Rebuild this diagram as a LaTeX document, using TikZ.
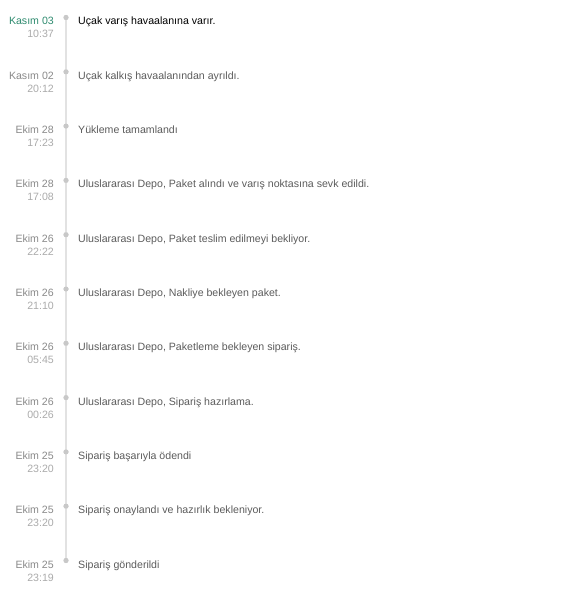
\documentclass[tikz,border=0pt]{standalone}
\usepackage{fontspec}
\setmainfont{Liberation Sans}
\usepackage{xcolor}
\definecolor{kargogreen}{HTML}{2E8B6F}
\definecolor{dategray}{HTML}{8A8A8A}
\definecolor{timegray}{HTML}{ABABAB}
\definecolor{textgray}{HTML}{5C5C5C}
\definecolor{linegray}{HTML}{E2E2E2}
\definecolor{dotgray}{HTML}{C8C8C8}

\begin{document}
\begin{tikzpicture}[x=1pt,y=-1pt,
    every node/.style={font=\fontsize{10.6}{13}\selectfont,inner sep=0pt},
    datelbl/.style={anchor=base east,text=dategray},
    timelbl/.style={anchor=base east,text=timegray},
    eventlbl/.style={anchor=base west,text=textgray},
    dot/.style={circle,fill=dotgray,minimum size=5pt}]
    \useasboundingbox[fill=white] (0,0) rectangle (582,593);
    \foreach \d/\t/\txt [count=\i from 0] in {
        Kasım 03/10:37/{Uçak varış havaalanına varır.},
        Kasım 02/20:12/{Uçak kalkış havaalanından ayrıldı.},
        Ekim 28/17:23/{Yükleme tamamlandı},
        Ekim 28/17:08/{Uluslararası Depo, Paket alındı ve varış noktasına sevk edildi.},
        Ekim 26/22:22/{Uluslararası Depo, Paket teslim edilmeyi bekliyor.},
        Ekim 26/21:10/{Uluslararası Depo, Nakliye bekleyen paket.},
        Ekim 26/05:45/{Uluslararası Depo, Paketleme bekleyen sipariş.},
        Ekim 26/00:26/{Uluslararası Depo, Sipariş hazırlama.},
        Ekim 25/23:20/{Sipariş başarıyla ödendi},
        Ekim 25/23:20/{Sipariş onaylandı ve hazırlık bekleniyor.},
        Ekim 25/23:19/{Sipariş gönderildi}} {
        \pgfmathsetmacro{\yb}{25+54.3*\i}
        \node[dot] (dot\i) at (66,\yb-7.5) {};
        \ifnum\i=0
            % latest event is highlighted
            \node[datelbl,text=kargogreen] (date\i) at (54,\yb) {\d};
            \node[eventlbl,text=black] (event\i) at (78,\yb) {\txt};
        \else
            \node[datelbl] (date\i) at (54,\yb) {\d};
            \node[eventlbl] (event\i) at (78,\yb) {\txt};
        \fi
        \node[timelbl] (time\i) at (54,\yb+13) {\t};
    }
    % timeline, dots drawn again on top
    \draw[linegray,line width=1.2pt] (dot0.south) -- (dot10.north);
    \foreach \i in {0,...,10} \node[dot] at (dot\i) {};
\end{tikzpicture}
\end{document}
